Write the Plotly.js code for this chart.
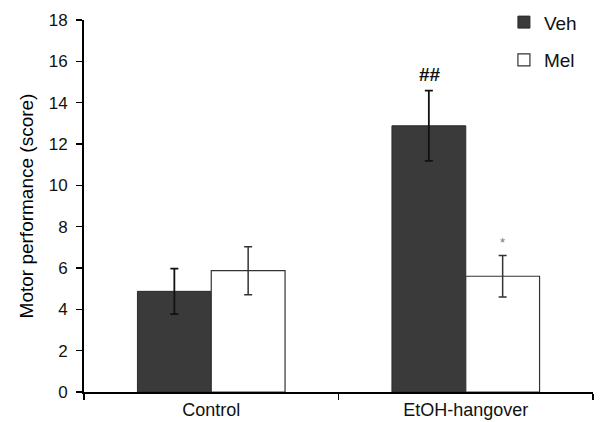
<!DOCTYPE html>
<html><head><meta charset="utf-8">
<script src="https://cdn.plot.ly/plotly-3.0.1.min.js"></script>
<style>html,body{margin:0;padding:0;background:#fff}#chart{width:601px;height:422px}</style>
</head><body><div id="chart"></div>
<script>
const categories = ["Control", "EtOH-hangover"];
const vehValues = [4.87, 12.88];
const vehErrors = [1.1, 1.7];
const melValues = [5.87, 5.6];
const melErrors = [1.16, 1.0];
const seriesNames = ["Veh", "Mel"];
const yTicks = [0, 2, 4, 6, 8, 10, 12, 14, 16, 18];

const font = "Liberation Sans, Arial, sans-serif";
const data = [
  {type: "bar", name: seriesNames[0], x: categories, y: vehValues, legendgroup: "a",
   marker: {color: "#3a3a3a", line: {color: "#2a2a2a", width: 1}},
   error_y: {type: "data", array: vehErrors, visible: true, color: "#111", thickness: 1.8, width: 4}},
  {type: "bar", name: seriesNames[1], x: categories, y: melValues, legendgroup: "b",
   marker: {color: "#ffffff", line: {color: "#333", width: 1.2}},
   error_y: {type: "data", array: melErrors, visible: true, color: "#333", thickness: 1.5, width: 4}}
];
const layout = {
  width: 601, height: 422,
  margin: {l: 84, r: 8, t: 20, b: 30, autoexpand: false},
  paper_bgcolor: "#fff", plot_bgcolor: "#fff",
  barmode: "group", bargap: 0.42, bargroupgap: 0,
  font: {family: font, color: "#111"},
  showlegend: true,
  legend: {x: 0.825, y: 1.045, xanchor: "left", yanchor: "top", font: {size: 19, family: font},
    traceorder: "grouped", tracegroupgap: 10, bgcolor: "rgba(0,0,0,0)", itemwidth: 30},
  xaxis: {type: "category", showline: true, linecolor: "#000", linewidth: 2,
    ticks: "outside", tickson: "boundaries", ticklen: 6, tickwidth: 1.5, tickcolor: "#000",
    tickfont: {size: 18, family: font}, showgrid: false, zeroline: false, fixedrange: true},
  yaxis: {range: [0, 18], tickvals: yTicks, ticktext: yTicks.map(String),
    showline: true, linecolor: "#000", linewidth: 2, ticks: "outside", ticklen: 6,
    tickwidth: 1.5, tickcolor: "#000", tickfont: {size: 17, family: font}, ticklabelstandoff: 5,
    showgrid: false, zeroline: false,
    title: {text: "Motor performance (score)", font: {size: 19, family: font, color: "#000"}, standoff: 10}},
  annotations: [
    {x: categories[1], y: vehValues[1] + vehErrors[1], xref: "x", yref: "y", text: "<b>##</b>",
     showarrow: false, xshift: -36, yshift: 16, yanchor: "middle", font: {size: 19, family: font, color: "#111"}},
    {x: categories[1], y: melValues[1] + melErrors[1], xref: "x", yref: "y", text: "*",
     showarrow: false, xshift: 37, yshift: 13, yanchor: "middle", font: {size: 13, family: font, color: "#777"}}
  ]
};
Plotly.newPlot("chart", data, layout, {displayModeBar: false, staticPlot: true});
</script></body></html>
